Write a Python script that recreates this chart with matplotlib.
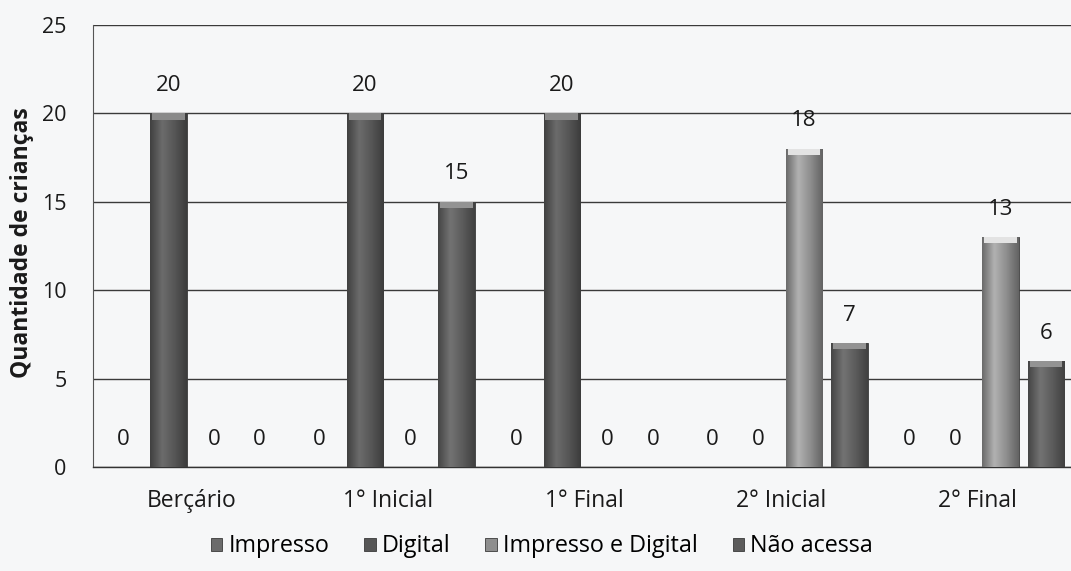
import numpy as np
import matplotlib
matplotlib.use("Agg")
import matplotlib.pyplot as plt
from matplotlib.colors import LinearSegmentedColormap

plt.rcParams['font.family'] = ['Open Sans', 'DejaVu Sans']

categories = ["Berçário", "1° Inicial", "1° Final", "2° Inicial", "2° Final"]
series_names = ["Impresso", "Digital", "Impresso e Digital", "Não acessa"]
impresso = [0, 0, 0, 0, 0]
digital = [20, 20, 20, 0, 0]
impresso_digital = [0, 0, 0, 18, 13]
nao_acessa = [0, 15, 0, 7, 6]
yticks = [0, 5, 10, 15, 20, 25]

series = [impresso, digital, impresso_digital, nao_acessa]
colors = ["#6b6b6b", "#565656", "#8e8e8e", "#5c5c5c"]
bg = "#f6f7f8"

fig = plt.figure(figsize=(10.71, 5.71), dpi=100, facecolor=bg)
ax = fig.add_axes([93/1071, 104/571, (1076-93)/1071, (467-25)/571])
ax.set_facecolor(bg)

x = np.arange(len(categories))
step = 0.232
width = 0.185
for i, (vals, col) in enumerate(zip(series, colors)):
    pos = x + (i - 1.5) * step
    bars = ax.bar(pos, vals, width, color=col, edgecolor="#3a3a3a", linewidth=0.6,
                  label=series_names[i], zorder=3)
    base = matplotlib.colors.to_rgb(col)
    cmap = LinearSegmentedColormap.from_list(
        "g", [tuple(c*0.75 for c in base), tuple(min(1, c*1.25) for c in base),
              base, tuple(c*0.7 for c in base)])
    grad = np.linspace(0, 1, 64).reshape(1, -1)
    for b, v in zip(bars, vals):
        if v > 0:
            x0, w, h = b.get_x(), b.get_width(), b.get_height()
            im = ax.imshow(grad, extent=[x0, x0 + w, 0, h], aspect="auto",
                           cmap=cmap, zorder=3.5, interpolation="bicubic")
            im.set_clip_path(b)
            ax.bar(b.get_x() + w/2, 0.35, w*0.9, bottom=h-0.35,
                   color=tuple(min(1, c*1.6) for c in base), zorder=4,
                   linewidth=0)
        ax.annotate(str(v), (b.get_x() + b.get_width()/2, v), xytext=(0, 12.5),
                    textcoords="offset points", ha="center", va="bottom",
                    fontsize=16, color="#1a1a1a")

ax.set_xlim(-0.5, len(categories) - 0.5)
ax.set_ylim(0, 25)
ax.set_yticks(yticks)
ax.set_yticklabels([str(t) for t in yticks], fontsize=15.5, color="#1a1a1a")
ax.set_xticks(x)
ax.set_xticklabels(categories, fontsize=16.5, color="#1a1a1a")
ax.tick_params(axis="both", length=0)
ax.tick_params(axis="y", pad=19)
ax.tick_params(axis="x", pad=16)
ax.grid(axis="y", color="#3a3a3a", linewidth=1.0, zorder=0)
for s in ["top", "right"]:
    ax.spines[s].set_visible(False)
ax.spines["left"].set_color("#555555")
ax.spines["left"].set_linewidth(0.8)
ax.spines["bottom"].set_color("#333333")
ax.spines["bottom"].set_linewidth(1.0)

ax.set_ylabel("Quantidade de crianças", fontsize=16.5, fontweight="bold",
              color="#1a1a1a")
ax.yaxis.set_label_coords((22 - 93) / (1076 - 93), (467 - 243) / (467 - 25))
ax.yaxis.label.set_va("center")

handles, labels = ax.get_legend_handles_labels()
leg = fig.legend(handles, labels, loc="center", bbox_to_anchor=(0.506, 0.043),
                 ncol=4, frameon=False, fontsize=16.8, handlelength=0.5,
                 handleheight=0.5, handletextpad=0.25, columnspacing=1.5)

fig.savefig("out.png", dpi=100, facecolor=bg)
